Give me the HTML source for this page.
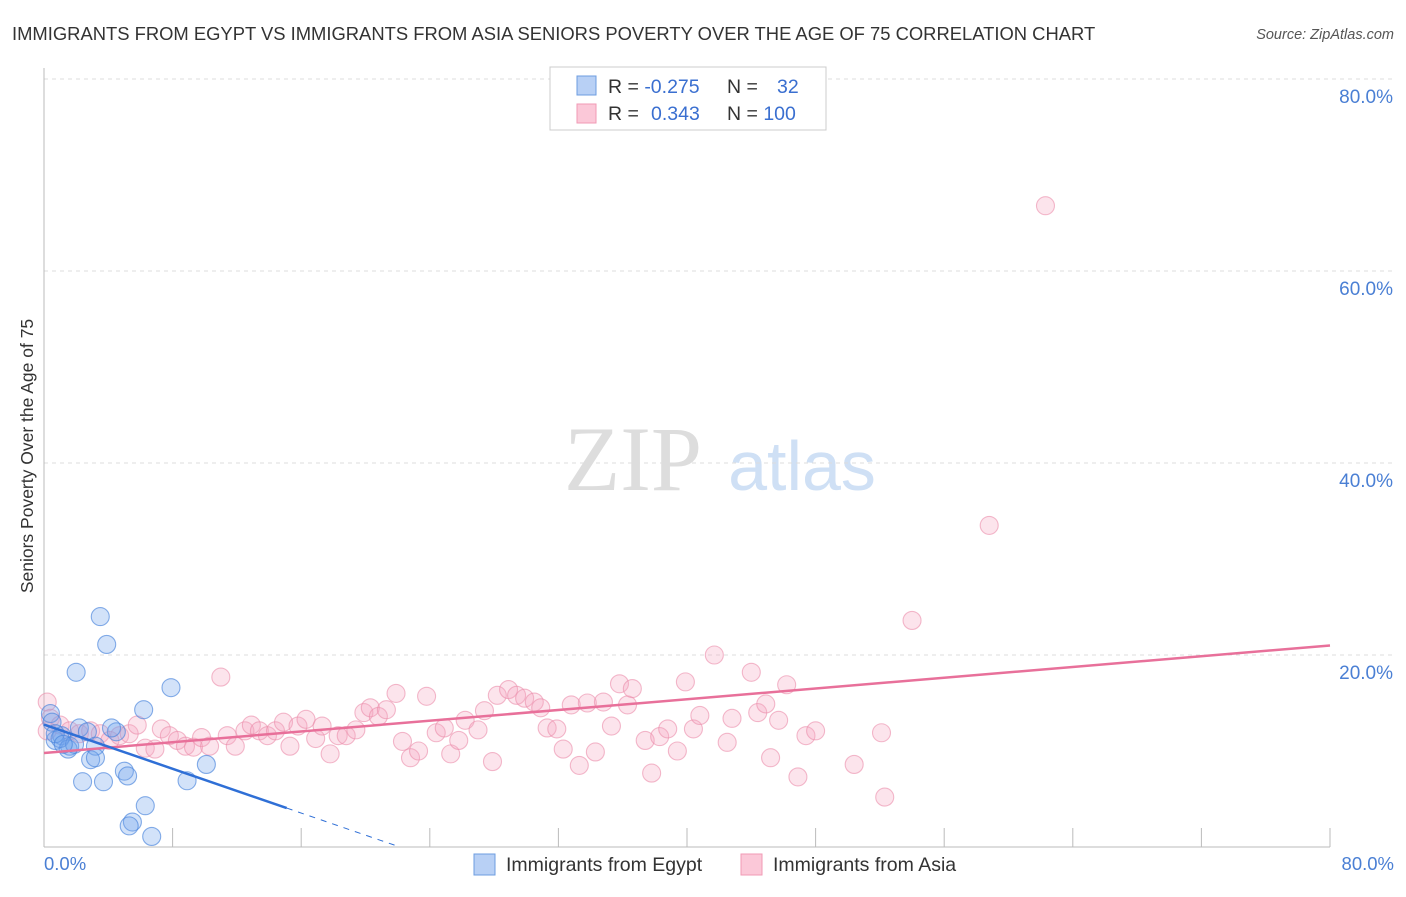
<!DOCTYPE html>
<html><head><meta charset="utf-8"><style>
body{margin:0;background:#fff;font-family:"Liberation Sans",sans-serif}
</style></head><body>
<svg id="chart" width="1406" height="892" xmlns="http://www.w3.org/2000/svg">
<text x="12" y="40" font-size="18.4" fill="#333">IMMIGRANTS FROM EGYPT VS IMMIGRANTS FROM ASIA SENIORS POVERTY OVER THE AGE OF 75 CORRELATION CHART</text>
<text x="1394" y="39" font-size="14.5" fill="#555" font-style="italic" text-anchor="end">Source: ZipAtlas.com</text>
<g>
<text x="633" y="490" font-family="Liberation Serif,serif" font-size="92" fill="#ddd" text-anchor="middle">ZIP</text>
<text x="802" y="490" font-size="70" fill="#cfe0f5" text-anchor="middle">atlas</text>
</g>
<g id="grid"></g>
<line x1="44" y1="68" x2="44" y2="847" stroke="#bbb"/>
<line x1="44" y1="847" x2="1330" y2="847" stroke="#bbb"/>
<text transform="translate(33,456) rotate(-90)" font-size="17.5" fill="#333" text-anchor="middle">Seniors Poverty Over the Age of 75</text>
<text x="44" y="870" font-size="18.5" fill="#4a7fd4">0.0%</text>
<text x="1394" y="870" font-size="18.5" fill="#4a7fd4" text-anchor="end">80.0%</text>
<g id="pts"></g>
<g id="trends"></g>
<g>
<rect x="550" y="67" width="276" height="63" fill="#fff" stroke="#ccc"/>
<rect x="577" y="76" width="19" height="19" fill="#b8d0f5" stroke="#6d9de0"/>
<rect x="577" y="104" width="19" height="19" fill="#fbc8d8" stroke="#f09ab5"/>
<text x="608" y="93" font-size="19.5" fill="#333">R = <tspan fill="#3a6fd0">-0.275</tspan></text>
<text x="727" y="93" font-size="19.5" fill="#333">N = <tspan x="777" fill="#3a6fd0">32</tspan></text>
<text x="608" y="120" font-size="19.5" fill="#333">R = <tspan x="651" fill="#3a6fd0">0.343</tspan></text>
<text x="727" y="120" font-size="19.5" fill="#333">N = <tspan fill="#3a6fd0">100</tspan></text>
</g>
<g>
<rect x="474" y="854" width="21" height="21" fill="#b8d0f5" stroke="#6d9de0"/>
<text x="506" y="871" font-size="19.5" fill="#333">Immigrants from Egypt</text>
<rect x="741" y="854" width="21" height="21" fill="#fbc8d8" stroke="#f09ab5"/>
<text x="773" y="871" font-size="19.5" fill="#333">Immigrants from Asia</text>
</g>
</svg>
<script>
const yTicks=[20,40,60,80];
const yTickLabels=["20.0%","40.0%","60.0%","80.0%"];
const xTicks=[8,16,24,32,40,48,56,64,72,80];
const egyptX=[3.5,3.9,2.0,7.9,6.2,0.4,0.5,0.7,1.1,1.6,1.5,2.2,2.7,3.2,4.5,4.2,2.9,3.2,10.1,5.0,5.2,2.4,3.7,8.9,6.3,5.5,5.3,6.7,1.0,0.7,1.9,1.2];
const egyptY=[24.0,21.1,18.2,16.6,14.3,13.9,13.0,11.1,11.6,10.5,10.2,12.4,12.0,10.5,12.0,12.4,9.1,9.3,8.6,7.9,7.4,6.8,6.8,6.9,4.3,2.6,2.2,1.1,11.3,11.8,10.7,10.7];
const asiaX=[0.2,0.4,1.0,0.2,1.6,2.2,2.9,3.5,4.1,4.7,5.3,5.8,6.3,6.9,7.3,7.8,8.3,8.8,9.3,9.8,10.3,11.0,11.4,11.9,12.5,12.9,13.4,13.9,14.4,14.9,15.3,15.8,16.3,16.9,17.3,17.8,18.3,18.8,19.4,19.9,20.3,20.8,21.3,21.9,22.3,22.8,23.3,23.8,24.4,24.9,25.3,25.8,26.2,27.0,27.4,27.9,28.2,28.9,29.4,29.9,30.5,30.9,31.3,31.9,32.3,32.8,33.3,33.8,34.3,34.8,35.3,35.8,36.3,36.6,37.4,37.8,38.3,38.8,39.4,39.9,40.4,40.8,41.7,42.5,42.8,44.0,44.4,44.9,45.2,45.7,46.2,46.9,47.4,48.0,50.4,52.3,52.1,54.0,58.8,62.3];
const asiaY=[15.1,13.4,12.7,12.1,12.1,11.8,12.1,11.8,11.1,11.6,11.8,12.7,10.3,10.2,12.3,11.6,11.1,10.5,10.4,11.4,10.5,17.7,11.6,10.5,12.1,12.7,12.1,11.6,12.1,13.0,10.5,12.6,13.3,11.3,12.6,9.7,11.6,11.6,12.2,14.0,14.5,13.6,14.3,16.0,11.0,9.3,10.0,15.7,11.9,12.4,9.7,11.1,13.2,12.2,14.2,8.9,15.8,16.4,15.8,15.5,15.1,14.5,12.4,12.3,10.2,14.8,8.5,15.0,9.9,15.1,12.6,17.0,14.8,16.5,11.1,7.7,11.5,12.3,10.0,17.2,12.3,13.7,20.0,10.9,13.4,18.2,14.0,14.9,9.3,13.2,16.9,7.3,11.6,12.1,8.6,5.2,11.9,23.6,33.5,66.8];
const X=v=>44+v*(1286/80), Y=v=>847-v*(768/80);
const NS="http://www.w3.org/2000/svg";
const grid=document.getElementById('grid');
yTicks.forEach((t,i)=>{
 const l=document.createElementNS(NS,'line');
 l.setAttribute('x1',44);l.setAttribute('x2',1394);l.setAttribute('y1',Y(t));l.setAttribute('y2',Y(t));
 l.setAttribute('stroke','#ddd');l.setAttribute('stroke-dasharray','4,4');
 
 
 grid.appendChild(l);
 const tx=document.createElementNS(NS,'text');
 tx.setAttribute('x',1393);tx.setAttribute('y',Y(t)+24);tx.setAttribute('font-size','19');tx.setAttribute('fill','#4a7fd4');tx.setAttribute('text-anchor','end');
 tx.textContent=yTickLabels[i];
 
 
 grid.appendChild(tx);
});
xTicks.forEach(t=>{
 const l=document.createElementNS(NS,'line');
 l.setAttribute('x1',X(t));l.setAttribute('x2',X(t));l.setAttribute('y1',828);l.setAttribute('y2',847);
 l.setAttribute('stroke','#bbb');
 
 
 grid.appendChild(l);
});
const pts=document.getElementById('pts');
function dots(xs,ys,fill,stroke,name){
 xs.forEach((x,i)=>{
  const c=document.createElementNS(NS,'circle');
  c.setAttribute('cx',X(x));c.setAttribute('cy',Y(ys[i]));c.setAttribute('r',9);
  c.setAttribute('fill',fill);c.setAttribute('stroke',stroke);c.setAttribute('stroke-width','1.1');
  
  
  pts.appendChild(c);
 });
}
dots(asiaX,asiaY,'rgba(245,165,192,0.3)','rgba(235,140,170,0.6)','asia-point');
dots(egyptX,egyptY,'rgba(115,165,235,0.32)','rgba(70,130,220,0.65)','egypt-point');
function fit(xs,ys){const n=xs.length;let mx=0,my=0;xs.forEach((x,i)=>{mx+=x;my+=ys[i]});mx/=n;my/=n;let a=0,b=0;xs.forEach((x,i)=>{a+=(x-mx)*(ys[i]-my);b+=(x-mx)*(x-mx)});const s=a/b;return [my-s*mx,s];}
const tr=document.getElementById('trends');
function seg(x1,x2,f,col,w,dash,name){
 const l=document.createElementNS(NS,'line');
 l.setAttribute('x1',X(x1));l.setAttribute('x2',X(x2));l.setAttribute('y1',Y(f[0]+f[1]*x1));l.setAttribute('y2',Y(f[0]+f[1]*x2));
 l.setAttribute('stroke',col);l.setAttribute('stroke-width',w);if(dash)l.setAttribute('stroke-dasharray',dash);
 
 
 tr.appendChild(l);
}
const fa=fit(asiaX,asiaY), fe=fit(egyptX,egyptY);
seg(0,80,fa,'#e8709a',2.5,null,'asia-trend-line');
seg(0,15.1,fe,'#2f6fd6',2.5,null,'egypt-trend-line');
seg(15.1,22.1,fe,'#2f6fd6',1,'6,6','egypt-trend-extension');
</script>
</body></html>
